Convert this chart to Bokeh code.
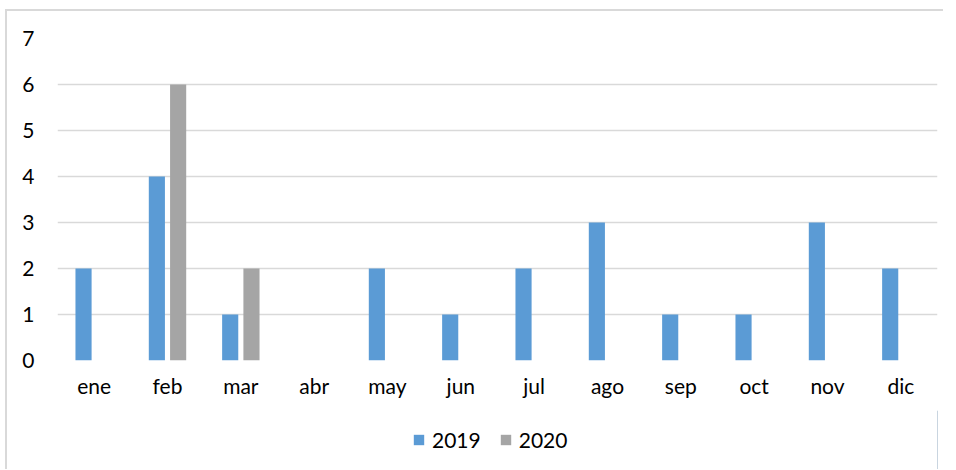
from bokeh.plotting import figure
from bokeh.layouts import column
from bokeh.models import ColumnDataSource, FactorRange, Range1d, Legend, LegendItem, SingleIntervalTicker
from bokeh.transform import dodge
from bokeh.embed import file_html
from bokeh.resources import INLINE

months = ["ene", "feb", "mar", "abr", "may", "jun", "jul", "ago", "sep", "oct", "nov", "dic"]
y2019 = [2, 4, 1, 0, 2, 1, 2, 3, 1, 1, 3, 2]
y2020 = [0, 6, 2, 0, 0, 0, 0, 0, 0, 0, 0, 0]
series_names = ["2019", "2020"]
colors = ["#5B9BD5", "#A5A5A5"]

FONT = "Lato"
W = 936

src = ColumnDataSource(dict(month=months, y2019=y2019, y2020=y2020))

p = figure(width=W, height=399, x_range=FactorRange(*months), y_range=Range1d(0, 7),
           output_backend="svg", toolbar_location=None,
           min_border_left=50, min_border_right=6, min_border_top=27, min_border_bottom=50)

p.vbar(x=dodge("month", -0.145, range=p.x_range), top="y2019", width=0.22, source=src,
       fill_color=colors[0], line_color=None)
p.vbar(x=dodge("month", 0.145, range=p.x_range), top="y2020", width=0.22, source=src,
       fill_color=colors[1], line_color=None)

p.outline_line_color = None
p.xgrid.grid_line_color = None
p.ygrid.grid_line_color = "#d9d9d9"
p.ygrid.grid_line_width = 1.5
p.yaxis.ticker = SingleIntervalTicker(interval=1)
for ax in (p.xaxis[0], p.yaxis[0]):
    ax.axis_line_color = None
    ax.major_tick_line_color = None
    ax.minor_tick_line_color = None
    ax.major_label_text_font = FONT
    ax.major_label_text_font_size = "21px"
    ax.major_label_text_color = "#000000"
p.yaxis.major_label_standoff = 17
p.xaxis.major_label_standoff = 6

# legend strip: its own small figure; the swatch renderers sit outside its visible range
lg = figure(width=W, height=59, x_range=Range1d(0, 1), y_range=Range1d(0, 1),
            output_backend="svg", toolbar_location=None,
            min_border_left=0, min_border_right=0, min_border_top=0, min_border_bottom=0)
lg.axis.visible = False
lg.grid.visible = False
lg.outline_line_color = None
swatch = ColumnDataSource(dict(x=[5], top=[1]))
l1 = lg.vbar(x="x", top="top", width=0.1, source=swatch, fill_color=colors[0], line_color=None)
l2 = lg.vbar(x="x", top="top", width=0.1, source=swatch, fill_color=colors[1], line_color=None)
legend = Legend(items=[LegendItem(label=series_names[0], renderers=[l1]),
                       LegendItem(label=series_names[1], renderers=[l2])],
                orientation="horizontal", location=(355, 17),
                label_text_font=FONT, label_text_font_size="21px", label_text_color="#000000",
                glyph_width=13, glyph_height=13, spacing=18, label_standoff=7,
                border_line_color=None, background_fill_alpha=0, margin=0, padding=2)
lg.add_layout(legend, "center")

layout = column(p, lg, spacing=0)
layout.styles = {"border-left": "2px solid #d9d9d9", "border-top": "2px solid #d9d9d9",
                 "margin-left": "5px", "margin-top": "9px"}

open("out.html", "w").write(file_html(layout, INLINE))
